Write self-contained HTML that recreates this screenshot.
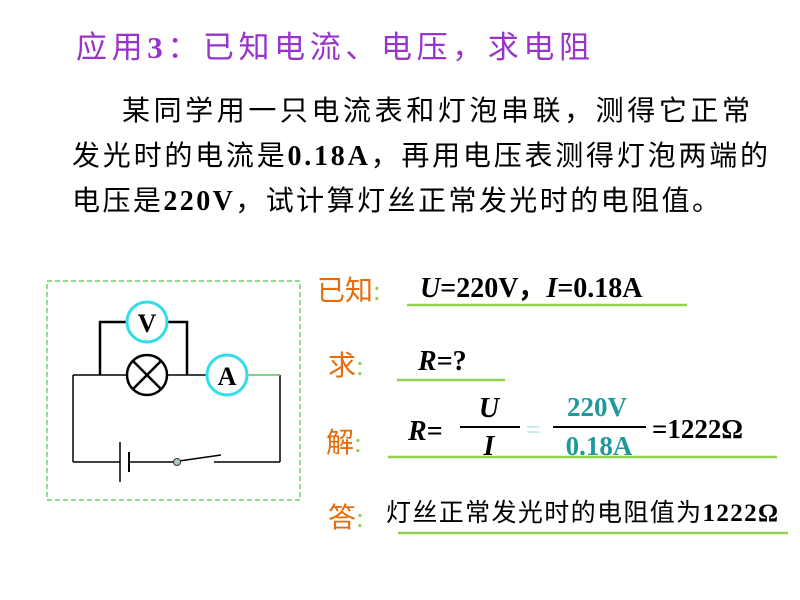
<!DOCTYPE html>
<html><head><meta charset="utf-8"><style>
body{margin:0;background:#fff;}
svg{display:block}
.cn{font-family:"Liberation Serif","Noto Sans CJK SC",sans-serif}
.b{font-family:"Liberation Serif",serif;font-weight:bold}
</style></head><body>
<svg width="800" height="600" viewBox="0 0 800 600" xmlns="http://www.w3.org/2000/svg">
<text x="76" y="58" class="cn" font-size="31" fill="#9933cc" textLength="514">应用<tspan class="b">3</tspan>：已知电流、电压，求电阻</text>
<g class="cn" font-size="28" fill="#000">
<text x="122" y="120" textLength="628">某同学用一只电流表和灯泡串联，测得它正常</text>
<text x="72" y="165" textLength="696">发光时的电流是<tspan class="b">0.18A</tspan>，再用电压表测得灯泡两端的</text>
<text x="72" y="210" textLength="648">电压是<tspan class="b">220V</tspan>，试计算灯丝正常发光时的电阻值。</text>
</g>
<rect x="47" y="281" width="253" height="219" fill="none" stroke="#44cc44" stroke-width="1.2" stroke-dasharray="5,3"/>
<g stroke="#000" stroke-width="1.5" fill="none">
<polyline points="100,375 100,322 187,322 187,375" stroke-width="2.5"/>
<line x1="73" y1="375" x2="207" y2="375"/>
<line x1="73" y1="375" x2="73" y2="462"/>
<line x1="280" y1="375" x2="280" y2="462"/>
<line x1="73" y1="462" x2="120" y2="462"/>
<line x1="129" y1="462" x2="174" y2="462"/>
<line x1="214" y1="462" x2="280" y2="462"/>
<line x1="120" y1="442" x2="120" y2="482"/>
<line x1="129" y1="452" x2="129" y2="472" stroke-width="2"/>
<line x1="179" y1="461" x2="221" y2="455"/>
</g>
<line x1="247" y1="375" x2="280" y2="375" stroke="#55cc55" stroke-width="1.5"/>
<circle cx="177" cy="462" r="3.5" fill="#aacccc" stroke="#333"/>
<circle cx="147" cy="375" r="20" fill="#fff" stroke="#000" stroke-width="2.5"/>
<line x1="133" y1="361" x2="161" y2="389" stroke="#000" stroke-width="2.5"/>
<line x1="161" y1="361" x2="133" y2="389" stroke="#000" stroke-width="2.5"/>
<circle cx="147" cy="322" r="20" fill="#fff" stroke="#33dde8" stroke-width="3"/>
<text x="147" y="332" text-anchor="middle" class="b" font-size="26">V</text>
<circle cx="227" cy="375" r="20" fill="#fff" stroke="#33dde8" stroke-width="3"/>
<text x="227" y="385" text-anchor="middle" class="b" font-size="26">A</text>
<g class="cn" font-size="28" fill="#e46c0a">
<text x="317" y="300">已知<tspan fill="#92d050">:</tspan></text>
<text x="328" y="375">求<tspan fill="#92d050">:</tspan></text>
<text x="326" y="452">解<tspan fill="#92d050">:</tspan></text>
<text x="328" y="527">答<tspan fill="#92d050">:</tspan></text>
</g>
<g stroke="#92d050" stroke-width="2.5">
<line x1="407" y1="305" x2="687" y2="305"/>
<line x1="397" y1="380" x2="505" y2="380"/>
<line x1="388" y1="457" x2="777" y2="457"/>
<line x1="398" y1="533" x2="788" y2="533"/>
</g>
<g class="b" font-size="28" fill="#000">
<text x="420" y="297"><tspan font-style="italic">U</tspan>=220V，<tspan font-style="italic">I</tspan>=0.18A</text>
<text x="418" y="370"><tspan font-style="italic">R</tspan>=?</text>
<text x="408" y="440"><tspan font-style="italic">R</tspan>=</text>
<text x="489" y="417" text-anchor="middle" font-style="italic">U</text>
<text x="489" y="455" text-anchor="middle" font-style="italic">I</text>
<text x="652" y="438" font-size="27">=1222Ω</text>
</g>
<line x1="460" y1="427" x2="520" y2="427" stroke="#000" stroke-width="2"/>
<line x1="553" y1="427" x2="646" y2="427" stroke="#000" stroke-width="2"/>
<text x="526" y="438" class="b" font-size="26" fill="#cce8ee">=</text>
<text x="597" y="416" text-anchor="middle" class="b" font-size="27" fill="#1f9999">220V</text>
<text x="599" y="455" text-anchor="middle" class="b" font-size="27" fill="#1f9999">0.18A</text>
<text x="386" y="521" class="cn" font-size="25" fill="#000" textLength="392">灯丝正常发光时的电阻值为<tspan class="b">1222Ω</tspan></text>
</svg>
</body></html>
